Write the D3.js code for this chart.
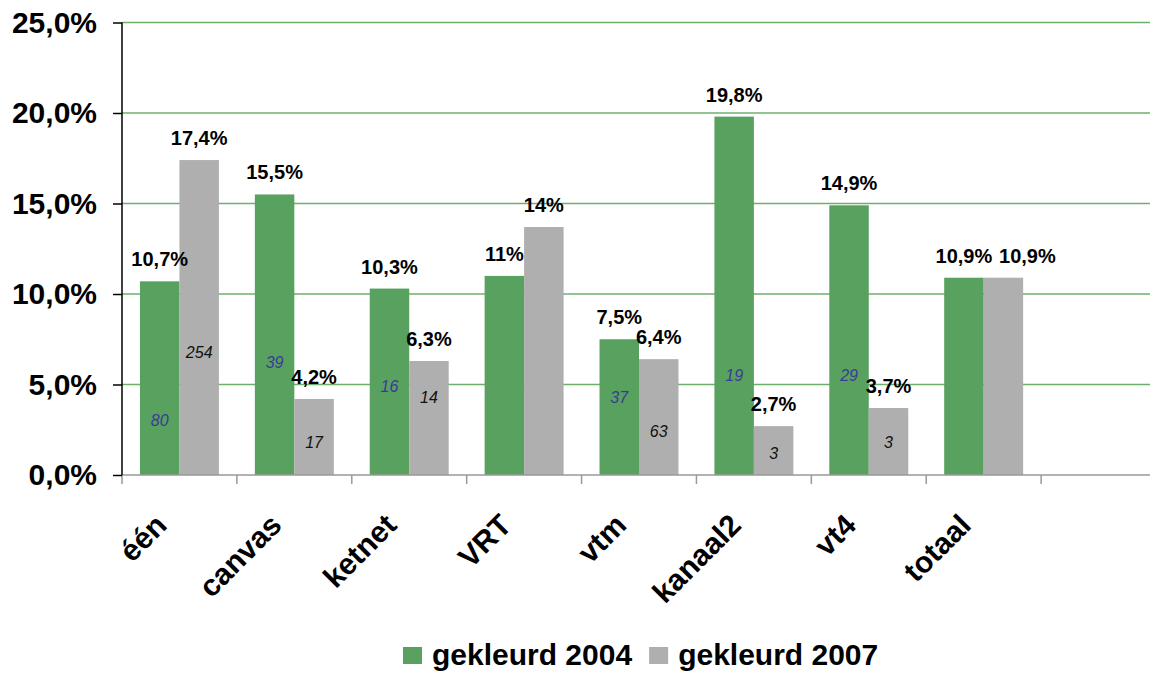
<!DOCTYPE html>
<html>
<head>
<meta charset="utf-8">
<script src="https://cdn.jsdelivr.net/npm/d3@7"></script>
<style>
  body { margin: 0; background: #fff; }
  svg { display: block; font-family: "Liberation Sans", Arial, sans-serif; }
</style>
</head>
<body>
<svg width="1150" height="673"></svg>
<script>
// data
var categories = ["één", "canvas", "ketnet", "VRT", "vtm", "kanaal2", "vt4", "totaal"];
var series = ["gekleurd 2004", "gekleurd 2007"];
var values2004 = [10.7, 15.5, 10.3, 11.0, 7.5, 19.8, 14.9, 10.9];
var values2007 = [17.4, 4.2, 6.3, 13.7, 6.4, 2.7, 3.7, 10.9];
var labels2004 = ["10,7%", "15,5%", "10,3%", "11%", "7,5%", "19,8%", "14,9%", "10,9%"];
var labels2007 = ["17,4%", "4,2%", "6,3%", "14%", "6,4%", "2,7%", "3,7%", "10,9%"];
// counts written inside the bars (null = none) and the level (in %) where they sit
var counts2004 = [80, 39, 16, null, 37, 19, 29, null];
var counts2007 = [254, 17, 14, null, 63, 3, 3, null];
var countAt2004 = [3.0, 6.2, 4.9, null, 4.3, 5.5, 5.5, null];
var countAt2007 = [6.8, 1.8, 4.3, null, 2.4, 1.2, 1.8, null];
var yTicks = [0, 5, 10, 15, 20, 25];

var colors = ["#59A15F", "#AFAFAF"];

var svg = d3.select("svg"),
    margin = {top: 22.5, right: 0, bottom: 198, left: 122},
    width = 1034,
    height = +svg.attr("height") - margin.top - margin.bottom,
    g = svg.append("g").attr("transform", "translate(" + margin.left + "," + margin.top + ")");

// 9 slots, the last one is left empty like in the original
var slots = categories.concat([""]);

var x = d3.scaleBand()
    .domain(slots)
    .range([0, width]);

var x1 = d3.scaleBand()
    .domain(series)
    .range([0, x.bandwidth()])
    .paddingOuter(0.455);

var y = d3.scaleLinear()
    .domain([0, 25])
    .range([height, 0]);

var fmt = function(d) { return d3.format(".1f")(d).replace(".", ",") + "%"; };

// gridlines
g.append("g")
  .selectAll("line")
  .data(yTicks.filter(function(d) { return d > 0; }))
  .enter().append("line")
    .attr("x1", 0)
    .attr("x2", width)
    .attr("y1", function(d) { return y(d); })
    .attr("y2", function(d) { return y(d); })
    .attr("stroke", "#6CB06C")
    .attr("stroke-width", 1.5);

// rows of data
var rows = categories.map(function(c, i) {
  return [
    {cat: c, s: series[0], v: values2004[i], label: labels2004[i], count: counts2004[i], at: countAt2004[i]},
    {cat: c, s: series[1], v: values2007[i], label: labels2007[i], count: counts2007[i], at: countAt2007[i]}
  ];
});

var group = g.selectAll(".grp")
  .data(rows)
  .enter().append("g")
    .attr("class", "grp")
    .attr("transform", function(d) { return "translate(" + x(d[0].cat) + ",0)"; });

group.selectAll("rect")
  .data(function(d) { return d; })
  .enter().append("rect")
    .attr("x", function(d) { return x1(d.s); })
    .attr("width", x1.bandwidth())
    .attr("y", function(d) { return y(d.v); })
    .attr("height", function(d) { return height - y(d.v); })
    .attr("fill", function(d, i) { return colors[i]; });

// value labels above the bars
// the two equal "totaal" labels would collide, the right one is pushed aside
var nudge = function(d) { return (d.cat === "totaal" && d.s === series[1]) ? 24 : 0; };

group.selectAll(".val")
  .data(function(d) { return d; })
  .enter().append("text")
    .attr("class", "val")
    .attr("x", function(d) { return x1(d.s) + x1.bandwidth() / 2 + nudge(d); })
    .attr("y", function(d) { return y(d.v) - 15; })
    .attr("text-anchor", "middle")
    .style("font-size", "20px")
    .style("font-weight", "bold")
    .attr("fill", "#000")
    .text(function(d) { return d.label; });

// counts inside the bars
group.selectAll(".cnt")
  .data(function(d) { return d.filter(function(e) { return e.count != null; }); })
  .enter().append("text")
    .attr("class", "cnt")
    .attr("x", function(d) { return x1(d.s) + x1.bandwidth() / 2; })
    .attr("y", function(d) { return y(d.at); })
    .attr("dy", "0.35em")
    .attr("text-anchor", "middle")
    .style("font-size", "16px")
    .style("font-style", "italic")
    .attr("fill", function(d) { return d.s === series[0] ? "#3A3A98" : "#111"; })
    .text(function(d) { return d.count; });

// x axis: baseline with ticks on slot boundaries
g.append("line")
    .attr("x1", 0)
    .attr("x2", width)
    .attr("y1", height)
    .attr("y2", height)
    .attr("stroke", "#999")
    .attr("stroke-width", 1.5);

g.append("g")
  .selectAll("line")
  .data(slots)
  .enter().append("line")
    .attr("x1", function(d) { return x(d); })
    .attr("x2", function(d) { return x(d); })
    .attr("y1", height)
    .attr("y2", height + 9)
    .attr("stroke", "#999")
    .attr("stroke-width", 1.5);

g.append("g")
  .selectAll("text")
  .data(categories)
  .enter().append("text")
    .attr("transform", function(d) {
      return "translate(" + (x(d) + x.bandwidth() / 2 - 11) + "," + (height + 52) + ") rotate(-45)";
    })
    .attr("text-anchor", "end")
    .style("font-size", "30px")
    .style("font-weight", "bold")
    .attr("fill", "#000")
    .text(function(d) { return d; });

// y axis
var yAxis = g.append("g")
    .call(d3.axisLeft(y).tickValues(yTicks).tickSize(9).tickPadding(16).tickFormat(fmt));

yAxis.select(".domain")
    .attr("d", "M0," + y(25) + "V" + height)
    .attr("stroke", "#000")
    .attr("stroke-width", 1.5);

yAxis.selectAll(".tick line")
    .attr("stroke", "#000")
    .attr("stroke-width", 1.5);

yAxis.selectAll(".tick text")
    .style("font-size", "30px")
    .style("font-weight", "bold")
    .style("font-family", "'Liberation Sans', Arial, sans-serif")
    .attr("fill", "#000");

// legend, centred under the chart
var legend = svg.append("g");
var lx = 0;
series.forEach(function(s, i) {
  legend.append("rect")
      .attr("x", lx)
      .attr("y", 0)
      .attr("width", 19)
      .attr("height", 17)
      .attr("fill", colors[i]);
  var t = legend.append("text")
      .attr("x", lx + 29)
      .attr("y", 18)
      .style("font-size", "30px")
      .style("font-weight", "bold")
      .attr("fill", "#000")
      .text(s);
  lx += 29 + t.node().getComputedTextLength() + (i < series.length - 1 ? 17 : 0);
});
legend.attr("transform", "translate(" + Math.round(640.5 - lx / 2) + ",647)");
</script>
</body>
</html>
